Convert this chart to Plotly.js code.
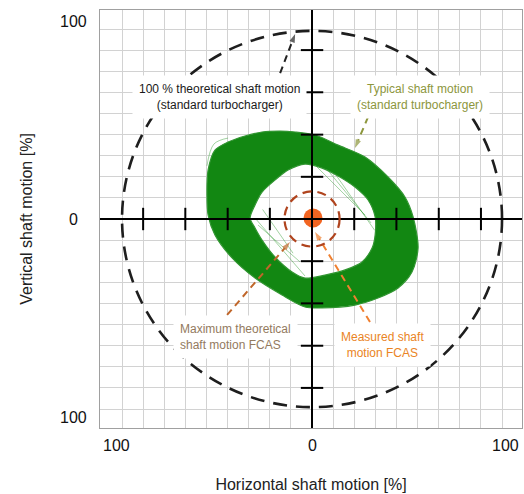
<!DOCTYPE html>
<html>
<head>
<meta charset="utf-8">
<script src="https://cdn.plot.ly/plotly-3.0.1.min.js"></script>
<style>html,body{margin:0;padding:0;background:#fff;}#chart{width:524px;height:494px;}</style>
</head>
<body>
<div id="chart"></div>
<script>
// ---- Data (percent of theoretical shaft motion) ----
// Theoretical maximum shaft motion of a standard turbocharger (radius, %)
const STANDARD_MAX_RADIUS = 100;
// Theoretical maximum shaft motion FCAS (radius, %)
const FCAS_MAX_RADIUS = 14.5;
// Measured shaft motion FCAS (orbit centre, %)
const FCAS_MEASURED_X = [0.5];
const FCAS_MEASURED_Y = [0.5];

// Typical shaft motion (standard turbocharger): outer envelope of the orbit band
const ORBIT_OUTER_X = [-55.3, -54.7, -51.1, -44.2, -35.3, -26.3, -16.8, -8.9, 1.6, 13.7, 27.9, 40.0, 48.9, 53.2, 55.8, 52.6, 45.3, 34.7, 22.6, 5.3, -3.7, -15.8, -30.0, -42.1, -51.1, -54.7];
const ORBIT_OUTER_Y = [12.6, 25.8, 36.3, 40.5, 43.7, 45.8, 46.3, 45.8, 44.2, 38.9, 32.6, 22.1, 11.6, 1.1, -15.3, -27.9, -36.3, -41.6, -45.3, -46.8, -46.3, -40.0, -31.1, -20.5, -8.4, 2.1];
// inner envelope of the orbit band
const ORBIT_INNER_X = [-32.6, -30.0, -26.3, -19.5, -12.6, -3.7, 5.3, 13.7, 22.6, 29.5, 33.2, 33.2, 31.6, 26.3, 17.4, 6.8, -3.7, -10.5, -19.5, -26.3, -30.0];
const ORBIT_INNER_Y = [0.5, 7.4, 14.2, 20.5, 25.8, 28.9, 26.8, 22.6, 16.8, 10.0, 1.1, -8.4, -15.3, -22.6, -26.8, -29.5, -31.1, -27.9, -20.0, -11.1, -4.7];
// single stray orbit strokes (lighter green)
const STRAY_X = [1.6, 27.9, null, 8.0, 31.0, null, 12.0, 33.0, null, -28.4, -6.3, null, -30.0, -3.7, null, -26.0, -10.0, null, -55.3, -51.6, -44.2];
const STRAY_Y = [28.4, 2.1, null, 26.0, -2.0, null, 24.0, -6.0, null, -3.2, -22.6, null, 0.5, -30.0, null, 5.0, -18.0, null, 28.0, 39.5, 42.6];

// Axis tick positions along the crossing axes (every 2 grid cells)
const AXIS_TICKS = [-88.9, -66.7, -44.4, -22.2, 22.2, 44.4, 66.7, 88.9];
// Tick labels
const X_TICK_TEXT = ['100', '0', '100'];
const Y_TICK_TEXT = ['100', '0', '100'];

// ---- Styles ----
const FONT = 'Liberation Sans, Arial, Helvetica, sans-serif';
const GREEN = 'rgb(18,135,18)';

function closeLoop(a) { return a.concat([a[0]]); }

const bandX = closeLoop(ORBIT_OUTER_X).concat([null], closeLoop(ORBIT_INNER_X.slice().reverse()));
const bandY = closeLoop(ORBIT_OUTER_Y).concat([null], closeLoop(ORBIT_INNER_Y.slice().reverse()));

const traces = [];
traces.push({
  type: 'scatter', mode: 'lines', x: bandX, y: bandY,
  fill: 'toself', fillcolor: GREEN,
  line: { color: 'rgb(50,150,50)', width: 1.2, shape: 'spline', smoothing: 0.8 },
  hoverinfo: 'skip', showlegend: false
});
traces.push({
  type: 'scatter', mode: 'lines', x: STRAY_X, y: STRAY_Y,
  line: { color: 'rgba(60,160,60,0.6)', width: 0.8, shape: 'spline' },
  hoverinfo: 'skip', showlegend: false
});
// measured FCAS motion
traces.push({
  type: 'scatter', mode: 'markers', x: FCAS_MEASURED_X, y: FCAS_MEASURED_Y,
  marker: { color: '#f26522', size: 19, line: { width: 0 } },
  hoverinfo: 'skip', showlegend: false
});
// axis ticks on the crossing axes
traces.push({
  type: 'scatter', mode: 'markers', x: AXIS_TICKS, y: AXIS_TICKS.map(() => 0),
  marker: { symbol: 'line-ns', size: 16, line: { color: '#000', width: 2 } },
  hoverinfo: 'skip', showlegend: false
});
traces.push({
  type: 'scatter', mode: 'markers', x: AXIS_TICKS.map(() => 0), y: AXIS_TICKS,
  marker: { symbol: 'line-ew', size: 16, line: { color: '#000', width: 2 } },
  hoverinfo: 'skip', showlegend: false
});

// dashed pointer arrows (from label to target)
const ARROWS = [
  { from: [-16.8, 76.8], to: [-8.9, 97.4], color: '#222222' },
  { from: [29.5, 53.7], to: [22.6, 37.4], color: '#8c963c' },
  { from: [-44.7, -50.5], to: [-11.6, -12.1], color: '#c0662a' },
  { from: [30.5, -54.2], to: [1.6, -6.8], color: '#f08030' }
];
ARROWS.forEach(a => {
  traces.push({
    type: 'scatter', mode: 'lines+markers',
    x: [a.from[0], a.to[0]], y: [a.from[1], a.to[1]],
    line: { color: a.color, width: 2, dash: '7px,5px' },
    marker: { symbol: ['circle', 'arrow'], size: [0, 9], angleref: 'previous', color: a.color, line: { width: 0 } },
    hoverinfo: 'skip', showlegend: false
  });
});

const shapes = [
  { type: 'circle', xref: 'x', yref: 'y', layer: 'between',
    x0: -STANDARD_MAX_RADIUS, x1: STANDARD_MAX_RADIUS, y0: -STANDARD_MAX_RADIUS + 1, y1: STANDARD_MAX_RADIUS - 1,
    line: { color: '#1e1e1e', width: 2.6, dash: '14px,9px' } },
  { type: 'circle', xref: 'x', yref: 'y', layer: 'above',
    x0: -FCAS_MAX_RADIUS, x1: FCAS_MAX_RADIUS, y0: -FCAS_MAX_RADIUS, y1: FCAS_MAX_RADIUS,
    line: { color: '#b0441e', width: 2.2, dash: '9px,6px' } }
];

const ann = [];
function label(text, x, y, color, align) {
  ann.push({ text: text, x: x, y: y, xref: 'x', yref: 'y', showarrow: false,
    font: { family: FONT, size: 12, color: color }, align: align || 'center',
    bgcolor: '#ffffff', borderpad: 6, xanchor: 'center', yanchor: 'middle' });
}
label('100 % theoretical shaft motion<br>(standard turbocharger)', -48.9, 64.2, '#1a1a1a');
label('Typical shaft motion<br>(standard turbocharger)', 56.6, 64.2, '#8c963c');
label('Maximum theoretical<br>shaft motion FCAS', -40.5, -62.0, '#937a5e', 'left');
label('Measured shaft<br>motion FCAS', 37.1, -66.3, '#ea8424');

// tick labels
const xTickPos = [-103, 0, 102];
X_TICK_TEXT.forEach((t, i) => ann.push({ text: t, x: xTickPos[i], y: 0, xref: 'x', yref: 'paper', yshift: -17,
  showarrow: false, xanchor: 'center', yanchor: 'middle', font: { family: FONT, size: 16, color: '#111' } }));
const yTickPos = [103.7, 0, -104.7];
Y_TICK_TEXT.forEach((t, i) => ann.push({ text: t, x: 0, y: yTickPos[i], xref: 'paper', yref: 'y', xshift: -27,
  showarrow: false, xanchor: 'center', yanchor: 'middle', font: { family: FONT, size: 16, color: '#111' } }));

const axisCommon = {
  tick0: 0, dtick: 100 / 9, showgrid: true, gridcolor: '#d2d2d2', gridwidth: 1,
  zeroline: true, zerolinecolor: '#000', zerolinewidth: 2, zerolinelayer: 'above traces',
  showticklabels: false, ticks: '', showline: true, mirror: true, linecolor: '#a0a0a0', linewidth: 1,
  automargin: false, fixedrange: true
};

const layout = {
  width: 524, height: 494,
  margin: { l: 100, r: 2, t: 10, b: 66, pad: 0 },
  paper_bgcolor: '#ffffff', plot_bgcolor: '#ffffff',
  font: { family: FONT, size: 16, color: '#222' },
  showlegend: false,
  xaxis: Object.assign({}, axisCommon, { range: [-111.6, 110.5],
    title: { text: 'Horizontal shaft motion [%]', font: { family: FONT, size: 16, color: '#222' }, standoff: 50 } }),
  yaxis: Object.assign({}, axisCommon, { range: [-110, 110],
    title: { text: 'Vertical shaft motion [%]', font: { family: FONT, size: 16, color: '#222' }, standoff: 62 } }),
  shapes: shapes,
  annotations: ann
};

Plotly.newPlot('chart', traces, layout, { staticPlot: true, displayModeBar: false });
</script>
</body>
</html>
